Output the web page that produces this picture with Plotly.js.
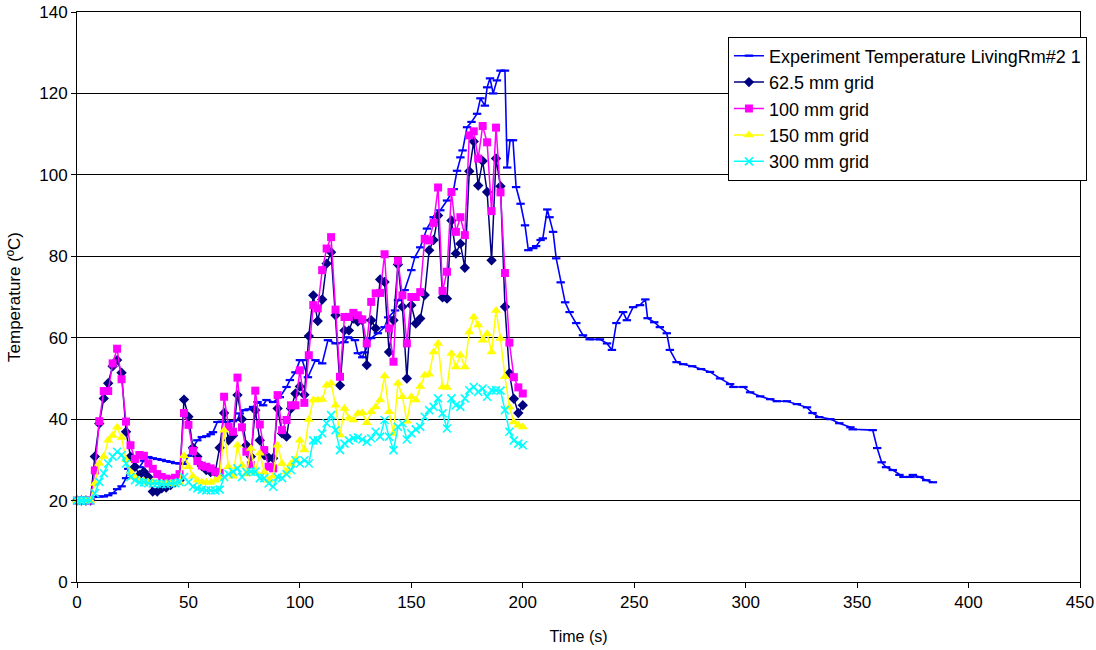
<!DOCTYPE html>
<html>
<head>
<meta charset="utf-8">
<script src="https://cdn.plot.ly/plotly-3.0.1.min.js"></script>
<style>
  html, body { margin: 0; padding: 0; background: #fff; }
  #chart { width: 1096px; height: 650px; }
</style>
</head>
<body>
<div id="chart"></div>
<script>
// Measured living-room temperature (s, degC)
const expTime = [0, 2, 4, 6, 8, 10, 12, 14, 16, 18, 20, 22, 23, 25, 28, 30, 32, 34, 36, 38,
  40, 42, 44, 46, 48, 50, 52, 54, 56, 58, 60, 61, 63, 65, 67, 70, 72, 73, 75, 77,
  79, 81, 83.5, 85, 88, 91, 94, 95.5, 98, 100, 101, 103.6, 107, 110, 112.6, 116, 120, 121.6, 124.7, 126,
  128, 129, 132, 135, 138, 139.6, 142.7, 144, 147, 150, 151.6, 154, 157, 160, 163, 166, 169, 170.5, 172, 173,
  175, 177, 179.5, 181, 183, 184, 185.3, 186.7, 188.4, 190, 192, 193, 194.3, 195.6, 197, 199, 201, 202.5, 204.7, 206,
  208, 209, 211, 212, 213.6, 215, 217, 219, 221, 224, 227, 230, 234.6, 237.8, 240, 242, 245, 246.7, 249.5, 252.6,
  255, 256, 259, 261.5, 264.6, 266, 269, 272, 276, 280, 284, 288.5, 293, 294.5, 299, 302, 306.5, 311, 314, 318.5,
  323, 327.5, 330, 333, 338, 342, 347, 348, 357, 359, 361, 363, 366, 369, 370.8, 374, 375, 378, 381, 384];
const expTemp = [20, 20, 20.3, 20.6, 20.9, 21, 21, 21.3, 21.8, 22.8, 23.5, 25.5, 27.8, 28.2, 28.2, 29.8, 30.7, 30.4, 30.2, 30,
  29.7, 29.5, 29.2, 29.1, 29, 31, 32.8, 34.8, 35.6, 35.8, 36.3, 36.8, 39.3, 39.4, 39.3, 39.5, 39.8, 41.4, 42.2, 42.4,
  43, 44.2, 43.4, 44.7, 44.2, 45.4, 47.9, 49.6, 51.5, 54.5, 54.5, 50.3, 54.5, 53.7, 59.4, 58.6, 58.9, 60.1, 59.4, 56.2,
  55.2, 56.4, 59.9, 61.1, 62.6, 65, 66.7, 69.2, 71.7, 76.6, 79.8, 82.2, 86.8, 89.6, 91.3, 93.7, 96.5, 101, 104.3, 106,
  111.7, 113, 115, 118.8, 117, 121.5, 123.7, 120, 123.2, 125.6, 125.6, 101.8, 108.5, 108.5, 97, 92.9, 87.6, 81.5, 82, 82.5,
  84, 84.4, 91.5, 89.6, 86, 79.5, 73.6, 68.7, 66.3, 63.6, 60.6, 59.6, 59.6, 58.6, 57, 63.6, 66.3, 64.3, 67.5, 68,
  69.4, 64.8, 63.8, 62.6, 61.1, 57, 54, 53.5, 53, 52.3, 51.6, 50, 48.6, 47.9, 47.9, 46.6, 45.6, 44.9, 44.4, 44.4,
  43.7, 42.9, 41.5, 40.5, 40, 39, 38, 37.5, 37.3, 32.9, 29.4, 28.2, 27.5, 26.3, 25.8, 25.8, 26.3, 25.8, 25, 24.5];

// Simulation output times (s)
const simTime = [0, 2, 4, 6, 8, 10, 12, 14, 16, 18,
  20, 22, 24, 26, 28, 30, 32, 34, 36, 38,
  40, 42, 44, 46, 48, 50, 52, 54, 56, 58,
  60, 62, 64, 66, 68, 70, 72, 74, 76, 78,
  80, 82, 84, 86, 88, 90, 92, 94, 96, 98,
  100, 102, 104, 106, 108, 110, 112, 114, 116, 118,
  120, 122, 124, 126, 128, 130, 132, 134, 136, 138,
  140, 142, 144, 146, 148, 150, 152, 154, 156, 158,
  160, 162, 164, 166, 168, 170, 172, 174, 176, 178,
  180, 182, 184, 186, 188, 190, 192, 194, 196, 198,
  200];

// Simulated temperature, 62.5 mm grid
const grid625 = [20, 20, 20, 20, 30.8, 38.9, 45.1, 48.8, 53, 54.5,
  51.4, 36.9, 30.8, 28.3, 26.3, 27.1, 25.8, 22.2, 22.2, 23,
  23.2, 23.8, 24.5, 25, 44.8, 40.6, 33, 30.8, 28.5, 27.5,
  27, 27, 33, 41.5, 34.8, 36, 45.9, 40, 33.6, 30.8,
  42.2, 34.8, 31.2, 30.5, 30.4, 42.6, 36.5, 35.7, 42.6, 46.3,
  48, 46, 60.4, 70.4, 64.1, 69.4, 78.2, 81, 65.5, 48.3,
  61.8, 61.8, 64.7, 64, 64.3, 53.3, 64.3, 62.3, 74.3, 73.7,
  56.5, 64.3, 78, 67.6, 50, 68, 63.5, 64.7, 70.5, 81.5,
  84, 90, 69.9, 69.6, 88.8, 80.7, 83.1, 77.2, 100.9, 108.2,
  97.4, 103.4, 95.8, 79, 104, 97.2, 67.6, 51.3, 45, 41.5,
  43.4];

// Simulated temperature, 100 mm grid
const grid100 = [20, 20, 20, 20, 27.4, 39.5, 46.9, 46.9, 53.7, 57.3,
  49.8, 39.4, 33.6, 30.2, 31.2, 31, 29.1, 27.8, 26.5, 25.8,
  25.4, 25.2, 25.6, 26.5, 41.5, 38.6, 32.2, 29.7, 28.6, 28.3,
  27.9, 27.1, 26.8, 45.5, 38.1, 36.9, 50.2, 38, 32, 28.7,
  47, 38.7, 32.4, 28.3, 27.9, 45.9, 37.3, 39.8, 43.4, 43.4,
  52, 44, 55.7, 68, 67.2, 76.6, 81.9, 84.7, 66.9, 50.4,
  65.1, 65.1, 66.1, 65.5, 64.5, 58.6, 68.8, 70.9, 71, 80.5,
  62.3, 54.1, 78.9, 70.4, 58.6, 70, 70, 71.2, 84.3, 83.9,
  88.2, 96.9, 71.5, 76.2, 95.8, 86, 89.6, 85.2, 109.7, 110.7,
  104, 112, 108, 91.1, 111.6, 95.7, 75.9, 58.8, 50.3, 47.8,
  46.3];

// Simulated temperature, 150 mm grid
const grid150 = [20, 20, 20, 20, 24.2, 29.1, 30.8, 34.8, 36, 38,
  35.5, 30, 27, 25.8, 25, 24.8, 24.5, 24.5, 24.3, 24.3,
  24.2, 24.2, 24.3, 24.5, 31, 28.3, 26, 25, 24.5, 24.5,
  24.5, 25, 25.5, 37.3, 28.3, 26, 33.6, 28.7, 26.5, 32.8,
  27, 31.6, 27, 25, 26, 33.6, 29.1, 27, 29, 30,
  34.8, 32.4, 39.9, 44.7, 44.7, 44.8, 48.3, 48.8, 43.4, 36.1,
  42.6, 40.2, 39.8, 41.4, 41.6, 39.1, 41.8, 43, 44.7, 50.6,
  41.8, 36.5, 48.8, 45.5, 39.5, 45.5, 44.7, 48, 50.8, 51,
  56.5, 58.6, 47.9, 47.8, 56.1, 52.8, 55.7, 52.8, 61.4, 65.1,
  63.1, 59.4, 61, 56.5, 66.7, 59.8, 50.4, 43, 39.3, 38.5,
  38.1];

// Simulated temperature, 300 mm grid
const grid300 = [20, 20, 20, 20, 21.8, 24.6, 26.7, 29.1, 30.8, 32,
  31.2, 29.1, 25.8, 25, 24.5, 24.5, 24.3, 24.2, 24.2, 24,
  24, 24.2, 24.3, 24.5, 25.8, 24.5, 23.4, 23, 22.7, 22.5,
  22.5, 22.5, 22.7, 25.8, 26.5, 27.1, 27.9, 25.8, 27, 27.1,
  27.1, 25.5, 25.5, 24.2, 23.4, 25.8, 25.5, 26.5, 27.5, 29.9,
  29.1, 29.9, 29.1, 34.8, 34.8, 36.5, 39, 41, 37.3, 32.4,
  34, 34.8, 35.3, 35.5, 35, 34.4, 35.3, 36.9, 35.7, 39.8,
  35.7, 32.4, 38.1, 39, 35, 36.5, 37.5, 38.1, 40.6, 42.2,
  43, 45.1, 41.4, 37.7, 45.1, 43.4, 43, 45.1, 47.1, 47.9,
  46.7, 47.5, 45.5, 47.1, 47.1, 47, 42.2, 36.9, 34.8, 34,
  33.6];

const seriesNames = ['Experiment Temperature LivingRm#2 1', '62.5 mm grid', '100 mm grid', '150 mm grid', '300 mm grid'];

const traces = [
  {
    x: expTime, y: expTemp, name: seriesNames[0], type: 'scatter', mode: 'lines+markers',
    line: { color: '#0000FF', width: 1.6 },
    marker: { symbol: 'line-ew', size: 6, color: '#0000FF', line: { color: '#0000FF', width: 2.2 } },
    cliponaxis: false
  },
  {
    x: simTime, y: grid625, name: seriesNames[1], type: 'scatter', mode: 'lines+markers',
    line: { color: '#000080', width: 1.5 },
    marker: { symbol: 'diamond', size: 8, color: '#000080' },
    cliponaxis: false
  },
  {
    x: simTime, y: grid100, name: seriesNames[2], type: 'scatter', mode: 'lines+markers',
    line: { color: '#FF00FF', width: 1.5 },
    marker: { symbol: 'square', size: 8, color: '#FF00FF' },
    cliponaxis: false
  },
  {
    x: simTime, y: grid150, name: seriesNames[3], type: 'scatter', mode: 'lines+markers',
    line: { color: '#FFFF00', width: 1.5 },
    marker: { symbol: 'triangle-up', size: 9, color: '#FFFF00' },
    cliponaxis: false
  },
  {
    x: simTime, y: grid300, name: seriesNames[4], type: 'scatter', mode: 'lines+markers',
    line: { color: '#00FFFF', width: 1.5 },
    marker: { symbol: 'x-thin', size: 8, color: '#00FFFF', line: { color: '#00FFFF', width: 1.6 } },
    cliponaxis: false
  }
];

const baseFont = { family: 'Liberation Sans, Arial, sans-serif', color: '#000', size: 16 };

const layout = {
  width: 1096, height: 650,
  margin: { l: 77, r: 16, t: 12, b: 68, pad: 0, autoexpand: false },
  paper_bgcolor: '#fff', plot_bgcolor: '#fff',
  font: baseFont,
  showlegend: true,
  legend: {
    x: 0.649, y: 0.957, xanchor: 'left', yanchor: 'top',
    bgcolor: '#fff', bordercolor: '#000', borderwidth: 1,
    font: { family: baseFont.family, color: '#000', size: 18 },
    tracegroupgap: 0
  },
  xaxis: {
    range: [0, 450], tick0: 0, dtick: 50,
    ticks: 'outside', ticklen: 5, tickcolor: '#000', tickwidth: 1,
    showline: true, linecolor: '#000', linewidth: 1, mirror: true,
    showgrid: false, zeroline: false,
    tickfont: { size: 17 },
    title: { text: 'Time (s)', font: { size: 16 }, standoff: 19 }
  },
  yaxis: {
    range: [0, 140], tick0: 0, dtick: 20,
    ticks: 'outside', ticklen: 5, tickcolor: '#000', tickwidth: 1,
    showline: true, linecolor: '#000', linewidth: 1, mirror: true,
    showgrid: true, gridcolor: '#000', gridwidth: 1, zeroline: false,
    tickfont: { size: 17 },
    title: { text: 'Temperature (ºC)', font: { size: 17 }, standoff: 14 }
  }
};

Plotly.newPlot('chart', traces, layout, { displayModeBar: false, staticPlot: true });
</script>
</body>
</html>
